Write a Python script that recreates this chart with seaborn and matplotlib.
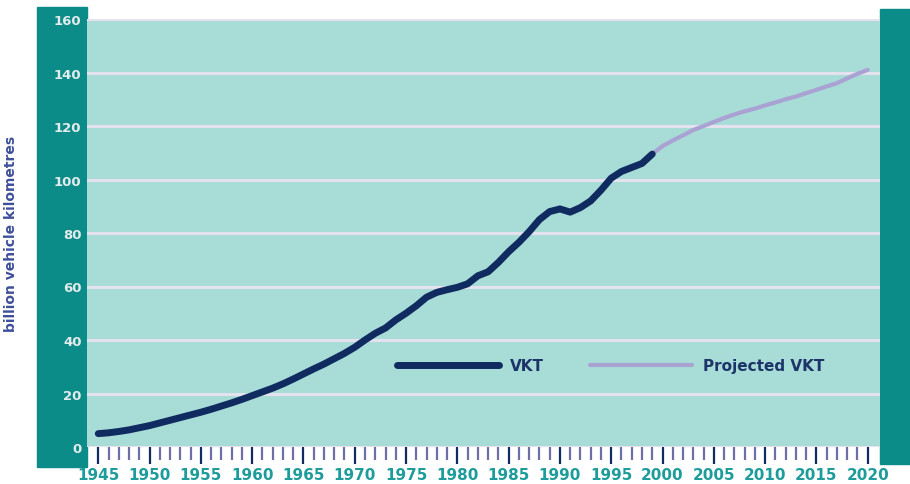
import matplotlib
matplotlib.use("Agg")
import matplotlib.pyplot as plt
from matplotlib.patches import Rectangle
from matplotlib.ticker import FixedLocator
import pandas as pd
import seaborn as sns

# Historical vehicle kilometres travelled (billion km)
vkt_years = list(range(1945, 2000))
vkt_values = [
    5.0, 5.3, 5.8, 6.4, 7.2, 8.0, 9.0, 10.0, 11.0, 12.0,
    13.0, 14.1, 15.3, 16.5, 17.8, 19.2, 20.6, 22.0, 23.6, 25.4,
    27.3, 29.2, 31.0, 33.0, 35.0, 37.3, 40.0, 42.5, 44.5, 47.5,
    50.0, 52.8, 56.0, 57.8, 58.8, 59.7, 61.0, 64.0, 65.5, 69.0,
    73.0, 76.5, 80.5, 85.0, 88.0, 89.0, 87.8, 89.5, 92.0, 96.0,
    100.5, 103.0, 104.5, 106.0, 109.5,
]

# Projection from the last observed year
proj_years = list(range(1999, 2021))
proj_values = [
    109.5, 112.5, 114.6, 116.5, 118.5, 120.0, 121.5, 123.0, 124.3, 125.5,
    126.5, 127.7, 128.8, 130.0, 131.0, 132.3, 133.5, 134.8, 136.0, 137.8,
    139.5, 141.0,
]

y_ticks = [0, 20, 40, 60, 80, 100, 120, 140, 160]
x_ticks = list(range(1945, 2021, 5))
x_minor_ticks = [y for y in range(1945, 2021) if y % 5 != 0]

vkt_df = pd.DataFrame({"year": vkt_years, "vkt": vkt_values})
proj_df = pd.DataFrame({"year": proj_years, "vkt": proj_values})

sns.set_style("white")
plt.rcParams["font.family"] = ["DejaVu Sans"]

BG = "#a8dcd7"
PANEL = "#0b8c88"
GRID = "#e4e2ee"
NAVY = "#0f2b60"
LAVENDER = "#a9a2d2"
LABEL_TEAL = "#1e9c9c"

fig = plt.figure(figsize=(9.10, 4.85), dpi=100)

# Side panels framing the plot
fig.patches.append(Rectangle((37 / 910, 1 - 468 / 485), 50 / 910, 460 / 485,
                             transform=fig.transFigure, color=PANEL, zorder=0))
fig.patches.append(Rectangle((880 / 910, 1 - 465 / 485), 30 / 910, 455 / 485,
                             transform=fig.transFigure, color=PANEL, zorder=0))

ax = fig.add_axes([87 / 910, 1 - 448 / 485, 793 / 910, 428 / 485])
ax.set_zorder(2)
ax.set_facecolor(BG)

sns.lineplot(data=vkt_df, x="year", y="vkt", ax=ax, color=NAVY,
             linewidth=5, label="VKT", zorder=4,
             solid_capstyle="round")
sns.lineplot(data=proj_df, x="year", y="vkt", ax=ax, color=LAVENDER,
             linewidth=3, label="Projected VKT", zorder=3,
             solid_capstyle="round")

ax.set_xlim(1943.9, 2021.2)
ax.set_ylim(0, 160)

ax.set_yticks(y_ticks)
ax.set_yticklabels([str(v) for v in y_ticks])
ax.set_xticks(x_ticks)
ax.set_xticklabels([str(v) for v in x_ticks])
ax.xaxis.set_minor_locator(FixedLocator(x_minor_ticks))

ax.grid(axis="y", color=GRID, linewidth=2.2)
ax.grid(axis="x", visible=False)
ax.set_axisbelow(True)

for spine in ax.spines.values():
    spine.set_visible(False)

ax.tick_params(axis="y", length=0, pad=4, labelsize=9.5,
               labelcolor="#e2ecec")
for lbl in ax.get_yticklabels():
    lbl.set_fontweight("bold")

ax.tick_params(axis="x", which="both", bottom=True, direction="out")
ax.tick_params(axis="x", which="major", length=12.5, width=1.6,
               color=NAVY, pad=2, labelsize=11, labelcolor=LABEL_TEAL)
ax.tick_params(axis="x", which="minor", length=9.5, width=1.6,
               color="#6f6fa8")
for lbl in ax.get_xticklabels():
    lbl.set_fontweight("bold")

ax.set_xlabel("")
ax.set_ylabel("billion vehicle kilometres", color="#3e4f9a",
              fontsize=10, fontweight="bold")
ax.yaxis.set_label_coords(-0.087, 0.5)

leg = ax.legend(loc="center", bbox_to_anchor=(0.66, 0.19), ncol=2,
                frameon=False, handlelength=6.7, handletextpad=0.7,
                columnspacing=3.0, prop={"size": 11, "weight": "bold"})
for txt in leg.get_texts():
    txt.set_color("#1c3468")

fig.savefig("out.png", dpi=100)
